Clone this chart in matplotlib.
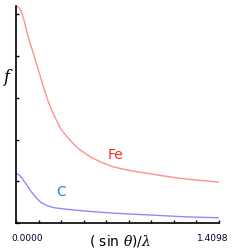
import matplotlib
matplotlib.use("Agg")
import matplotlib.pyplot as plt
import numpy as np

# data
x_fe = [0.0, 0.015, 0.033, 0.056, 0.078, 0.102, 0.125, 0.148, 0.172, 0.194, 0.217, 0.241, 0.264,
        0.310, 0.356, 0.403, 0.449, 0.519, 0.588, 0.681, 0.80, 0.931, 1.04, 1.139, 1.25, 1.347, 1.4098]
f_fe = [26.0, 25.9, 25.5, 24.3, 22.7, 21.3, 20.1, 18.7, 17.4, 16.1, 14.9, 13.8, 12.9,
        11.3, 10.3, 9.4, 8.7, 7.9, 7.3, 6.7, 6.25, 5.9, 5.6, 5.35, 5.15, 5.0, 4.9]
x_c = [0.0, 0.015, 0.033, 0.067, 0.102, 0.137, 0.172, 0.217, 0.264, 0.333, 0.449, 0.565, 0.681,
       0.80, 0.931, 1.04, 1.139, 1.25, 1.4098]
f_c = [5.95, 5.85, 5.55, 4.75, 3.84, 3.08, 2.48, 2.07, 1.83, 1.68, 1.48, 1.32, 1.18,
       1.07, 0.96, 0.86, 0.77, 0.70, 0.63]
x_max = 1.4098
y_ticks = [0, 5, 10, 15, 20, 25]
x_tick_labels = ["0.0000", "1.4098"]

plt.rcParams['mathtext.fontset'] = 'dejavuserif'
fig = plt.figure(figsize=(2.4, 2.5), dpi=100)
ax = fig.add_axes([0.0667, 0.108, 0.8458, 0.868])

ax.plot(x_fe, f_fe, color="#ff9090", lw=1.0, solid_joinstyle="round")
ax.plot(x_c, f_c, color="#8c8cff", lw=1.0, solid_joinstyle="round")

ax.set_xlim(0, x_max)
ax.set_ylim(0, 26)
for s in ["top", "right"]:
    ax.spines[s].set_visible(False)
for s in ["left", "bottom"]:
    ax.spines[s].set_linewidth(1.2)
ax.set_yticks(y_ticks)
ax.set_yticklabels([])
ax.set_xticks(np.linspace(0, x_max, 10))
ax.set_xticklabels([])
ax.tick_params(direction="in", length=2.5, width=1.0)

tr = matplotlib.transforms.blended_transform_factory(ax.transData, ax.transAxes)
ax.text(0.076, -0.05, x_tick_labels[0], transform=tr, ha="center", va="top", fontsize=6.5, color="#000033")
ax.text(1.368, -0.05, x_tick_labels[1], transform=tr, ha="center", va="top", fontsize=6.5, color="#000033")

ax.text(0.69, 8.2, "Fe", color="#e8301c", fontsize=10, ha="center", va="center", family="DejaVu Sans")
ax.text(0.31, 3.7, "C", color="#1e88d8", fontsize=10, ha="center", va="center", family="DejaVu Sans")

fig.text(0.5, 0.035, r"( sin $\mathit{\theta}$)/$\mathit{\lambda}$", ha="center", va="center", fontsize=10)
fig.text(0.033, 0.69, r"$\mathit{f}$", ha="center", va="center", fontsize=12)

fig.savefig("out.png", dpi=100)
